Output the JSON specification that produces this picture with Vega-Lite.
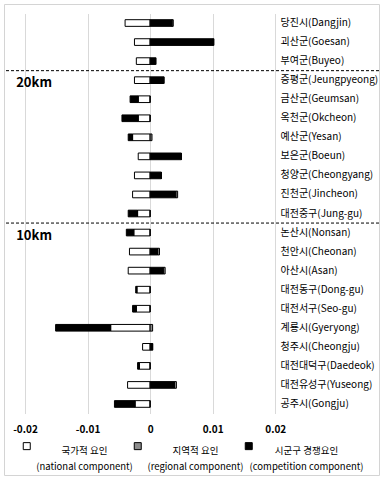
{
  "$schema": "https://vega.github.io/schema/vega-lite/v6.json",
  "width": 375,
  "height": 471,
  "autosize": {"type": "none"},
  "padding": {"left": 4, "top": 4, "right": 7, "bottom": 4},
  "background": "white",
  "config": {
    "view": {"stroke": "#d4d4d4", "strokeWidth": 1},
    "font": "Noto Sans CJK KR",
    "style": {"guide-label": {"lineHeight": 16}}
  },
  "layer": [
    {
      "data": {"values": [
        {"region": "당진시(Dangjin)", "component": "국가적 요인|(national component)", "value": -0.0040},
        {"region": "당진시(Dangjin)", "component": "지역적 요인|(regional component)", "value": 0.0002},
        {"region": "당진시(Dangjin)", "component": "시군구 경쟁요인|(competition component)", "value": 0.0035},
        {"region": "괴산군(Goesan)", "component": "국가적 요인|(national component)", "value": -0.0025},
        {"region": "괴산군(Goesan)", "component": "지역적 요인|(regional component)", "value": 0.0001},
        {"region": "괴산군(Goesan)", "component": "시군구 경쟁요인|(competition component)", "value": 0.0101},
        {"region": "부여군(Buyeo)", "component": "국가적 요인|(national component)", "value": -0.0022},
        {"region": "부여군(Buyeo)", "component": "지역적 요인|(regional component)", "value": 0.0},
        {"region": "부여군(Buyeo)", "component": "시군구 경쟁요인|(competition component)", "value": 0.0009},
        {"region": "증평군(Jeungpyeong)", "component": "국가적 요인|(national component)", "value": -0.0025},
        {"region": "증평군(Jeungpyeong)", "component": "지역적 요인|(regional component)", "value": 0.0},
        {"region": "증평군(Jeungpyeong)", "component": "시군구 경쟁요인|(competition component)", "value": 0.0022},
        {"region": "금산군(Geumsan)", "component": "국가적 요인|(national component)", "value": -0.0019},
        {"region": "금산군(Geumsan)", "component": "지역적 요인|(regional component)", "value": 0.0},
        {"region": "금산군(Geumsan)", "component": "시군구 경쟁요인|(competition component)", "value": -0.0013},
        {"region": "옥천군(Okcheon)", "component": "국가적 요인|(national component)", "value": -0.0019},
        {"region": "옥천군(Okcheon)", "component": "지역적 요인|(regional component)", "value": 0.0},
        {"region": "옥천군(Okcheon)", "component": "시군구 경쟁요인|(competition component)", "value": -0.0026},
        {"region": "예산군(Yesan)", "component": "국가적 요인|(national component)", "value": -0.0028},
        {"region": "예산군(Yesan)", "component": "지역적 요인|(regional component)", "value": 0.0003},
        {"region": "예산군(Yesan)", "component": "시군구 경쟁요인|(competition component)", "value": -0.0007},
        {"region": "보은군(Boeun)", "component": "국가적 요인|(national component)", "value": -0.0019},
        {"region": "보은군(Boeun)", "component": "지역적 요인|(regional component)", "value": 0.0},
        {"region": "보은군(Boeun)", "component": "시군구 경쟁요인|(competition component)", "value": 0.0050},
        {"region": "청양군(Cheongyang)", "component": "국가적 요인|(national component)", "value": -0.0025},
        {"region": "청양군(Cheongyang)", "component": "지역적 요인|(regional component)", "value": 0.0},
        {"region": "청양군(Cheongyang)", "component": "시군구 경쟁요인|(competition component)", "value": 0.0018},
        {"region": "진천군(Jincheon)", "component": "국가적 요인|(national component)", "value": -0.0028},
        {"region": "진천군(Jincheon)", "component": "지역적 요인|(regional component)", "value": 0.0003},
        {"region": "진천군(Jincheon)", "component": "시군구 경쟁요인|(competition component)", "value": 0.0041},
        {"region": "대전중구(Jung-gu)", "component": "국가적 요인|(national component)", "value": -0.0020},
        {"region": "대전중구(Jung-gu)", "component": "지역적 요인|(regional component)", "value": 0.0},
        {"region": "대전중구(Jung-gu)", "component": "시군구 경쟁요인|(competition component)", "value": -0.0015},
        {"region": "논산시(Nonsan)", "component": "국가적 요인|(national component)", "value": -0.0026},
        {"region": "논산시(Nonsan)", "component": "지역적 요인|(regional component)", "value": 0.0},
        {"region": "논산시(Nonsan)", "component": "시군구 경쟁요인|(competition component)", "value": -0.0012},
        {"region": "천안시(Cheonan)", "component": "국가적 요인|(national component)", "value": -0.0033},
        {"region": "천안시(Cheonan)", "component": "지역적 요인|(regional component)", "value": 0.0003},
        {"region": "천안시(Cheonan)", "component": "시군구 경쟁요인|(competition component)", "value": 0.0012},
        {"region": "아산시(Asan)", "component": "국가적 요인|(national component)", "value": -0.0035},
        {"region": "아산시(Asan)", "component": "지역적 요인|(regional component)", "value": 0.0003},
        {"region": "아산시(Asan)", "component": "시군구 경쟁요인|(competition component)", "value": 0.0021},
        {"region": "대전동구(Dong-gu)", "component": "국가적 요인|(national component)", "value": -0.0021},
        {"region": "대전동구(Dong-gu)", "component": "지역적 요인|(regional component)", "value": 0.0},
        {"region": "대전동구(Dong-gu)", "component": "시군구 경쟁요인|(competition component)", "value": -0.0002},
        {"region": "대전서구(Seo-gu)", "component": "국가적 요인|(national component)", "value": -0.0022},
        {"region": "대전서구(Seo-gu)", "component": "지역적 요인|(regional component)", "value": 0.0},
        {"region": "대전서구(Seo-gu)", "component": "시군구 경쟁요인|(competition component)", "value": -0.0006},
        {"region": "계룡시(Gyeryong)", "component": "국가적 요인|(national component)", "value": -0.0063},
        {"region": "계룡시(Gyeryong)", "component": "지역적 요인|(regional component)", "value": 0.0004},
        {"region": "계룡시(Gyeryong)", "component": "시군구 경쟁요인|(competition component)", "value": -0.0088},
        {"region": "청주시(Cheongju)", "component": "국가적 요인|(national component)", "value": -0.0012},
        {"region": "청주시(Cheongju)", "component": "지역적 요인|(regional component)", "value": 0.0},
        {"region": "청주시(Cheongju)", "component": "시군구 경쟁요인|(competition component)", "value": 0.0004},
        {"region": "대전대덕구(Daedeok)", "component": "국가적 요인|(national component)", "value": -0.0017},
        {"region": "대전대덕구(Daedeok)", "component": "지역적 요인|(regional component)", "value": 0.0},
        {"region": "대전대덕구(Daedeok)", "component": "시군구 경쟁요인|(competition component)", "value": -0.0003},
        {"region": "대전유성구(Yuseong)", "component": "국가적 요인|(national component)", "value": -0.0036},
        {"region": "대전유성구(Yuseong)", "component": "지역적 요인|(regional component)", "value": 0.0003},
        {"region": "대전유성구(Yuseong)", "component": "시군구 경쟁요인|(competition component)", "value": 0.0039},
        {"region": "공주시(Gongju)", "component": "국가적 요인|(national component)", "value": -0.0024},
        {"region": "공주시(Gongju)", "component": "지역적 요인|(regional component)", "value": 0.0},
        {"region": "공주시(Gongju)", "component": "시군구 경쟁요인|(competition component)", "value": -0.0033}
      ]},
      "mark": {"type": "bar", "stroke": "black", "strokeWidth": 1},
      "encoding": {
        "y": {
          "field": "region", "type": "nominal",
          "scale": {
            "domain": ["당진시(Dangjin)", "괴산군(Goesan)", "부여군(Buyeo)", "증평군(Jeungpyeong)", "금산군(Geumsan)", "옥천군(Okcheon)", "예산군(Yesan)", "보은군(Boeun)", "청양군(Cheongyang)", "진천군(Jincheon)", "대전중구(Jung-gu)", "논산시(Nonsan)", "천안시(Cheonan)", "아산시(Asan)", "대전동구(Dong-gu)", "대전서구(Seo-gu)", "계룡시(Gyeryong)", "청주시(Cheongju)", "대전대덕구(Daedeok)", "대전유성구(Yuseong)", "공주시(Gongju)"],
            "range": [9.5, 409.5],
            "paddingInner": 0.65, "paddingOuter": 0.325
          },
          "axis": {"orient": "right", "offset": -99, "title": null, "ticks": false, "domain": false, "grid": false, "labelPadding": 0, "labelFontSize": 10, "labelColor": "black", "labelFont": "Noto Sans CJK KR", "labelLimit": 0}
        },
        "x": {
          "field": "value", "type": "quantitative", "stack": "zero",
          "scale": {"domain": [-0.02335, 0.03658], "nice": false, "zero": false},
          "axis": {"orient": "top", "offset": -420, "values": [-0.02, -0.01, 0, 0.01, 0.02], "title": null, "domain": false, "ticks": false, "tickSize": 0, "grid": true, "gridColor": "#d9d9d9", "gridWidth": 1, "labelExpr": "datum.value == 0 ? '0' : (datum.value < 0 ? '-' : '') + format(abs(datum.value), '.2f')", "labelFontSize": 10, "labelFontWeight": "bold", "labelPadding": 0, "labelBaseline": "top", "labelColor": "black", "labelFont": "Noto Sans CJK KR"}
        },
        "color": {
          "field": "component", "type": "nominal",
          "sort": ["국가적 요인|(national component)", "지역적 요인|(regional component)", "시군구 경쟁요인|(competition component)"],
          "scale": {"domain": ["국가적 요인|(national component)", "지역적 요인|(regional component)", "시군구 경쟁요인|(competition component)"], "range": ["white", "#8c8c8c", "black"]},
          "legend": {"title": null, "orient": "none", "direction": "horizontal", "legendX": 18, "legendY": 437, "symbolType": "square", "symbolSize": 49, "symbolStrokeColor": "black", "symbolStrokeWidth": 1, "labelExpr": "split(datum.label, '|')", "labelAlign": "center", "labelOffset": 53, "labelBaseline": "top", "labelFontSize": 9.5, "labelLimit": 0, "columnPadding": -13, "padding": 0, "labelColor": "black", "labelFont": "Noto Sans CJK KR"}
        }
      }
    },
    {
      "data": {"values": [{"region": "증평군(Jeungpyeong)", "label": "20km"}, {"region": "논산시(Nonsan)", "label": "10km"}]},
      "mark": {"type": "rule", "strokeDash": [3, 2], "color": "black", "strokeWidth": 1, "yOffset": -9.5},
      "encoding": {"y": {"field": "region", "type": "nominal"}}
    },
    {
      "data": {"values": [{"region": "증평군(Jeungpyeong)", "label": "20km"}, {"region": "논산시(Nonsan)", "label": "10km"}]},
      "mark": {"type": "text", "align": "left", "fontSize": 13, "fontWeight": "bold", "dy": 3, "font": "Noto Sans CJK KR", "color": "black"},
      "encoding": {
        "y": {"field": "region", "type": "nominal"},
        "x": {"datum": -0.0214},
        "text": {"field": "label"}
      }
    }
  ]
}
